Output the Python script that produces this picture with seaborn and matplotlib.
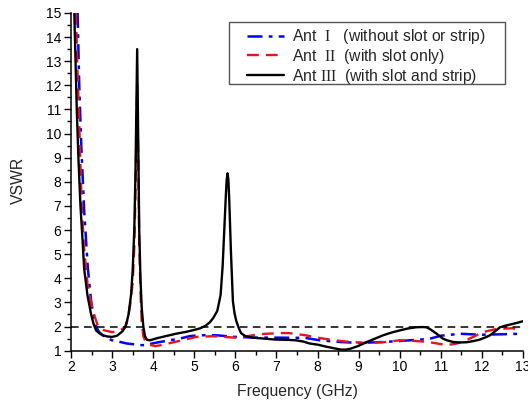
import numpy as np
import pandas as pd
import matplotlib
matplotlib.use("Agg")
import matplotlib.pyplot as plt
from matplotlib.ticker import MultipleLocator
from matplotlib.patches import Rectangle
import seaborn as sns

# 数据
ant1_f = [2.16, 2.20, 2.25, 2.32, 2.41, 2.49, 2.55, 2.61, 2.68, 2.77, 2.88, 3.0, 3.2, 3.35, 3.5,
          3.66, 3.8, 3.9, 4.1, 4.4, 4.65, 4.88, 5.12, 5.53, 6.0, 6.5, 7.06, 7.7, 8.05, 8.55,
          9.0, 9.6, 10.0, 10.5, 10.7, 11.0, 11.47, 12.0, 12.5, 12.9]
ant1_v = [15, 12, 9.5, 6.8, 4.4, 3.05, 2.4, 2.0, 1.78, 1.64, 1.52, 1.43, 1.36, 1.3, 1.27,
          1.23, 1.23, 1.27, 1.34, 1.43, 1.5, 1.6, 1.64, 1.64, 1.57, 1.54, 1.54, 1.53, 1.43, 1.36,
          1.32, 1.36, 1.4, 1.46, 1.48, 1.62, 1.7, 1.66, 1.68, 1.7]

ant2_f = [2.12, 2.15, 2.19, 2.26, 2.32, 2.40, 2.50, 2.58, 2.65, 2.72, 2.82, 3.0, 3.15, 3.25,
          3.32, 3.38, 3.44, 3.50, 3.54, 3.57, 3.61, 3.64, 3.66, 3.69, 3.72, 3.76, 3.82, 3.92,
          4.05, 4.2, 4.37, 4.5, 4.7, 5.05, 5.45, 6.0, 6.3, 6.56, 7.06, 7.3, 7.7, 8.0, 8.4, 8.8,
          9.2, 9.6, 10.0, 10.4, 10.7, 10.9, 11.15, 11.4, 11.7, 12.03, 12.35, 12.76, 12.9]
ant2_v = [15, 13, 11, 7, 5.2, 3.8, 2.9, 2.4, 2.05, 1.9, 1.84, 1.77, 1.8, 1.9,
          2.0, 2.3, 2.9, 3.8, 5.3, 7.6, 12.0, 8.5, 5.5, 3.5, 2.2, 1.6, 1.35, 1.24,
          1.19, 1.23, 1.3, 1.35, 1.43, 1.57, 1.6, 1.54, 1.6, 1.68, 1.73, 1.73, 1.64, 1.54, 1.43, 1.36,
          1.32, 1.35, 1.43, 1.4, 1.36, 1.3, 1.23, 1.3, 1.5, 1.77, 1.9, 1.93, 1.84]

ant3_f = [2.08, 2.11, 2.14, 2.18, 2.23, 2.28, 2.32, 2.40, 2.49, 2.55, 2.61, 2.69, 2.77, 2.88,
          3.0, 3.12, 3.25, 3.33, 3.40, 3.46, 3.50, 3.54, 3.57, 3.61, 3.64, 3.66, 3.69, 3.72,
          3.76, 3.80, 3.85, 3.92, 4.0, 4.1, 4.3, 4.55, 4.8, 5.0, 5.15, 5.28, 5.38, 5.46, 5.56,
          5.64, 5.69, 5.73, 5.77, 5.79, 5.81, 5.83, 5.85, 5.89, 5.94, 5.98, 6.02, 6.08, 6.14,
          6.25, 6.42, 6.7, 6.98, 7.25, 7.47, 7.65, 7.8, 8.0, 8.2, 8.4, 8.55, 8.68, 8.8, 9.0, 9.2,
          9.4, 9.6, 9.8, 10.0, 10.2, 10.4, 10.55, 10.65, 10.75, 10.9, 11.05, 11.15, 11.3, 11.45,
          11.63, 11.8, 11.95, 12.1, 12.2, 12.32, 12.44, 12.56, 12.68, 12.85, 13.0]
ant3_v = [15, 13, 11, 9, 7, 5.6, 4.4, 3.3, 2.5, 2.1, 1.84, 1.72, 1.64, 1.59,
          1.57, 1.62, 1.8, 2.0, 2.5, 3.3, 4.3, 6.0, 8.5, 13.5, 9.0, 6.0, 4.0, 2.8,
          2.0, 1.6, 1.45, 1.43, 1.47, 1.52, 1.6, 1.7, 1.78, 1.86, 1.93, 2.04, 2.18, 2.35, 2.65,
          3.3, 4.5, 6.0, 7.5, 8.1, 8.35, 8.1, 7.3, 5.2, 3.05, 2.55, 2.24, 1.95, 1.72,
          1.6, 1.54, 1.50, 1.46, 1.45, 1.43, 1.38, 1.3, 1.25, 1.17, 1.1, 1.05, 1.04, 1.08, 1.2, 1.36,
          1.5, 1.64, 1.75, 1.84, 1.92, 1.97, 1.98, 1.97, 1.88, 1.7, 1.5, 1.43, 1.36, 1.34,
          1.35, 1.4, 1.46, 1.56, 1.64, 1.8, 1.97, 2.03, 2.08, 2.15, 2.22]

labels = ["Ant  $\\mathrm{I}$   (without slot or strip)",
          "Ant  $\\mathrm{II}$  (with slot only)",
          "Ant $\\mathrm{III}$  (with slot and strip)"]

sns.set_theme(style="ticks")
plt.rcParams["font.family"] = ["Liberation Sans", "DejaVu Sans"]
plt.rcParams["mathtext.fontset"] = "custom"
plt.rcParams["mathtext.rm"] = "Liberation Serif"
plt.rcParams["xtick.direction"] = "out"
plt.rcParams["ytick.direction"] = "out"

fig = plt.figure(figsize=(5.28, 4.04), dpi=100)
ax = fig.add_axes([0.1345, 0.132, 0.856, 0.836])

sns.lineplot(x=ant1_f, y=ant1_v, ax=ax, color="#0000ff", lw=1.8,
             linestyle=(0, (6, 2.5, 1.5, 2.5)), label=labels[0])
sns.lineplot(x=ant2_f, y=ant2_v, ax=ax, color="#e8141b", lw=1.7,
             linestyle=(0, (5, 3)), label=labels[1])
sns.lineplot(x=ant3_f, y=ant3_v, ax=ax, color="black", lw=1.7,
             linestyle="-", label=labels[2])

# VSWR = 2 参考线
ax.axhline(2, color="black", lw=1.1, linestyle=(0, (5, 3.5)))

ax.set_xlim(2, 13)
ax.set_ylim(1, 15)
ax.xaxis.set_major_locator(MultipleLocator(1))
ax.xaxis.set_minor_locator(MultipleLocator(0.5))
ax.yaxis.set_major_locator(MultipleLocator(1))
ax.yaxis.set_minor_locator(MultipleLocator(0.5))
ax.tick_params(which="major", length=5, width=1, labelsize=10, color="black", labelcolor="black", pad=2)
ax.tick_params(which="minor", length=3, width=1, color="black")
for s in ["top", "right"]:
    ax.spines[s].set_visible(False)
for s in ["left", "bottom"]:
    ax.spines[s].set_linewidth(1.1)
    ax.spines[s].set_color("black")

ax.set_xlabel("Frequency (GHz)", fontsize=11.3)
ax.set_ylabel("VSWR", fontsize=11.3)
ax.xaxis.set_label_coords(0.5, -0.098)
ax.yaxis.set_label_coords(-0.10, 0.505)

# 图例：外框单独画，以便留出和原图一样的左右边距
ax.add_patch(Rectangle((0.3496, 0.7898), 0.6106, 0.1835, transform=ax.transAxes,
                       facecolor="white", edgecolor="#555555", lw=1.0, zorder=4))
leg = ax.legend(loc="upper left", bbox_to_anchor=(0.389, 0.958), borderaxespad=0,
                fontsize=11.3, frameon=False, handlelength=2.4, handletextpad=0.5,
                labelspacing=0.05, borderpad=0)
leg.set_zorder(5)

plt.savefig("out.png", dpi=100)
